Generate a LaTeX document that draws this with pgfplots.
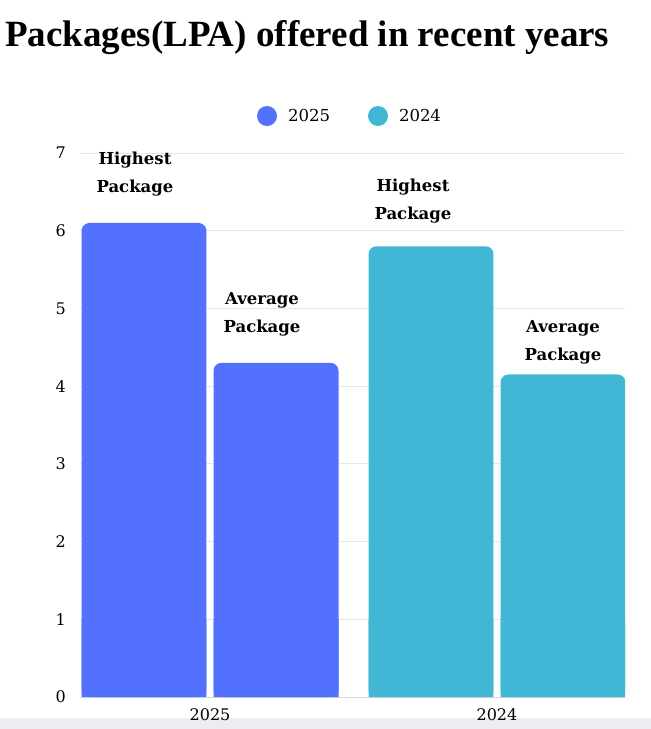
\documentclass[border=0pt]{standalone}
\usepackage{fontspec}
\setmainfont{DejaVu Serif}
\newfontfamily\titlefont{Liberation Serif}
\usepackage{pgfplots}
\usepackage{pgfplotstable}
\pgfplotsset{compat=1.18}

\definecolor{blue25}{HTML}{5271FF}
\definecolor{cyan24}{HTML}{42B7D5}
\definecolor{gridgray}{HTML}{E6E6E6}
\definecolor{basegray}{HTML}{D6D6D6}
\definecolor{stripgray}{HTML}{ECEDF1}

% x: bar centre (2025 group at 0, 2024 group at 1), y: LPA
% dx, dy: label offsets in px
\pgfplotstableread{
x     y    lab     dx  dy
-0.23 6.1  Highest -9  27
0.23  4.3  Average -14 26
}\dataA
\pgfplotstableread{
x     y    lab     dx  dy
0.77  5.8  Highest -18 23
1.23  4.15 Average 0   10
}\dataB

\begin{document}
\begin{tikzpicture}[x=1pt,y=1pt]
\path[use as bounding box] (-80,-32) rectangle (571,697);
\fill[stripgray] (-80,-21) rectangle (571,-32);
\begin{axis}[
  scale only axis,
  width=545pt, height=544pt,
  xmin=-0.453, xmax=1.446,
  ymin=0, ymax=7,
  ybar, bar width=0.4355,
  xtick={0,1}, xticklabels={2025,2024},
  ytick={0,1,...,7},
  major tick length=0pt,
  ymajorgrids,
  grid style={gridgray, line width=1pt},
  axis x line*=bottom, axis y line*=left,
  x axis line style={basegray, line width=1pt},
  y axis line style={draw=none},
  tick label style={font=\fontsize{16}{16}\selectfont},
  /pgf/number format/assume math mode=true,
  yticklabel style={inner sep=0pt, xshift=-14pt},
  xticklabel style={inner sep=0pt, yshift=-11pt},
  legend columns=2,
  legend style={at={(0.4936,1.068)}, anchor=center, draw=none, fill=none,
    inner sep=0pt, font=\fontsize{16.5}{16.5}\selectfont,
    nodes={inner sep=0pt, anchor=west},
    /tikz/every odd column/.append style={column sep=11pt},
    /tikz/every even column/.append style={column sep=38pt}},
  lbl/.style={
    nodes near coords={\pgfplotspointmeta\\Package},
    point meta=explicit symbolic,
    visualization depends on={\thisrow{dx} \as \dx},
    visualization depends on={\thisrow{dy} \as \dy},
    every node near coord/.append style={font=\bfseries\fontsize{16.5}{28}\selectfont,
      align=center, anchor=south, inner sep=0pt, text=black,
      xshift=\dx pt, yshift=\dy pt}},
]
\addplot[fill=blue25, draw=none, bar shift=0pt, rounded corners=8pt, lbl,
  legend image code/.code={\fill[blue25] (0pt,0pt) circle (10pt);}]
  table[x=x, y=y, meta=lab] {\dataA};
\addlegendentry{2025}
\addplot[fill=cyan24, draw=none, bar shift=0pt, rounded corners=8pt, lbl,
  legend image code/.code={\fill[cyan24] (0pt,0pt) circle (10pt);}]
  table[x=x, y=y, meta=lab] {\dataB};
\addlegendentry{2024}
% square off the bottom corners of the bars
\addplot[fill=blue25, draw=none, bar shift=0pt, forget plot]
  table[x=x, y expr={min(\thisrow{y},1)}] {\dataA};
\addplot[fill=cyan24, draw=none, bar shift=0pt, forget plot]
  table[x=x, y expr={min(\thisrow{y},1)}] {\dataB};
\end{axis}
\node[anchor=base west, inner sep=0pt, font=\titlefont\bfseries\fontsize{37}{37}\selectfont]
  at (-75,650) {Packages(LPA) offered in recent years};
\end{tikzpicture}
\end{document}
